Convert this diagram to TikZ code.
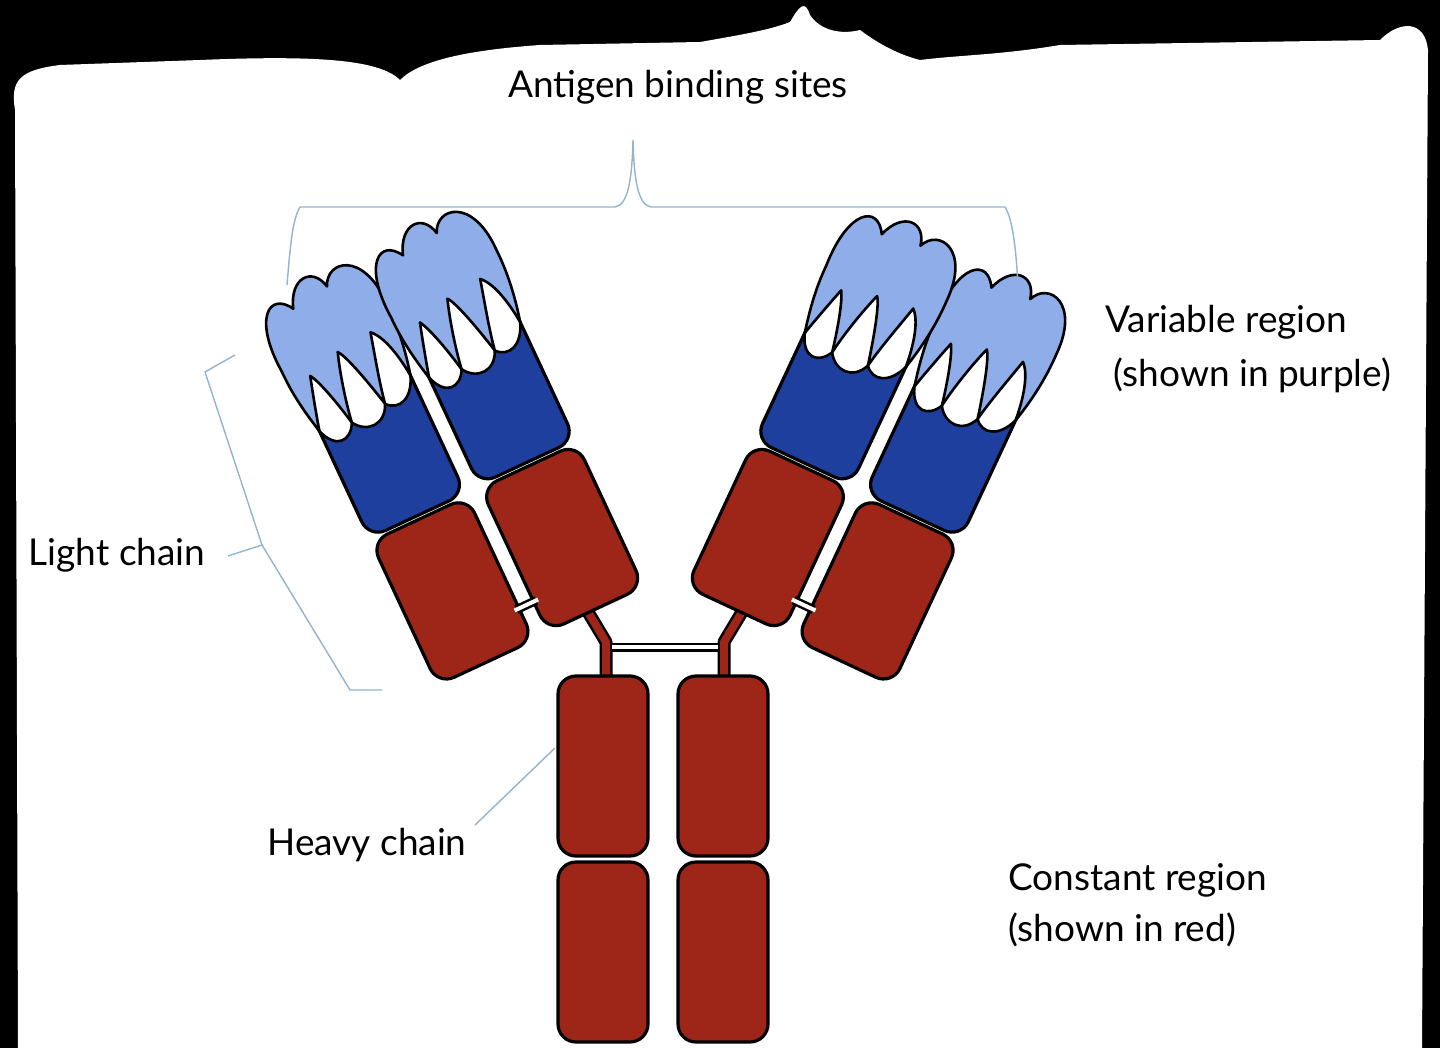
\documentclass[tikz,border=0pt]{standalone}
\usepackage{fontspec}
\setmainfont{Lato}
\definecolor{abred}{HTML}{9E2618}
\definecolor{abblue}{HTML}{1F3F9E}
\definecolor{ablight}{HTML}{8FADE8}
\definecolor{brk}{HTML}{93B4CC}
\begin{document}
\begin{tikzpicture}[x=0.5pt,y=-0.5pt,line join=round,
  box/.style={draw=black,line width=1.6pt,rounded corners=9pt},
  ol/.style={draw=black,line width=1.3pt},
  brace/.style={draw=brk,line width=0.7pt},
  lbl/.style={font=\fontsize{18.5}{22}\selectfont,inner sep=0pt},
  pics/chain/.style={code={
    \path[box,fill=abblue] (-53,-250) rectangle (53,-82);
    \path[ol,fill=white] (-53,-290) -- (-53,-200) .. controls (-45,-176) and (-28,-178) .. (-20,-194)
      .. controls (-10,-178) and (10,-178) .. (18,-197) .. controls (28,-185) and (45,-190) .. (53,-212) -- (53,-290) -- cycle;
    \path[ol,fill=ablight] (-53,-200) .. controls (-60,-230) and (-62,-250) .. (-62,-270)
      .. controls (-66,-330) and (-40,-348) .. (-25,-322)
      .. controls (-15,-352) and (10,-352) .. (15,-328)
      .. controls (25,-352) and (62,-345) .. (62,-290)
      .. controls (63,-260) and (58,-232) .. (53,-212)
      .. controls (50,-245) and (42,-262) .. (35,-268)
      .. controls (30,-248) and (22,-220) .. (18,-197)
      .. controls (10,-232) and (2,-258) .. (-3,-264)
      .. controls (-10,-244) and (-17,-215) .. (-20,-194)
      .. controls (-27,-228) and (-34,-248) .. (-38,-254)
      .. controls (-44,-234) and (-50,-212) .. (-53,-200) -- cycle;
    \path[box,fill=abred] (-53,-78) rectangle (53,80);
  }}]
\fill[black] (0,0) rectangle (1440,1048);
\fill[white] (18,1048) -- (15,110) .. controls (10,80) and (20,70) .. (60,65)
  -- (200,60) .. controls (320,55) and (380,60) .. (400,80) .. controls (420,60) and (470,50) .. (540,45)
  -- (700,42) .. controls (740,35) and (770,30) .. (790,22) .. controls (800,5) and (805,0) .. (810,15)
  .. controls (820,30) and (840,35) .. (860,30) .. controls (880,45) and (900,55) .. (920,60)
  .. controls (960,55) and (1000,55) .. (1060,45) -- (1380,40) .. controls (1400,20) and (1425,20) .. (1428,50)
  -- (1422,1048) -- cycle;
\useasboundingbox (0,0) rectangle (1440,1048);

% hinge
\coordinate (hlA) at (588,612); \coordinate (hlB) at (606,642); \coordinate (hlC) at (606,678);
\coordinate (hrA) at (742,612); \coordinate (hrB) at (724,642); \coordinate (hrC) at (724,678);
\draw[line width=6.5pt,black] (hlA) -- (hlB) -- (hlC);
\draw[line width=4pt,abred] (hlA) -- (hlB) -- (hlC);
\draw[line width=6.5pt,black] (hrA) -- (hrB) -- (hrC);
\draw[line width=4pt,abred] (hrA) -- (hrB) -- (hrC);
\draw[line width=4.5pt,black] (610,647) -- (720,647);
\draw[line width=2pt,white] (612,647) -- (718,647);

% arms
\begin{scope}[shift={(452,590)},rotate=25]
  \pic[transform shape] (ll) {chain};
  \pic[transform shape] (lh) at (122,-2) {chain};
  \draw[line width=4.5pt,black] (50,45) -- (72,45);
  \draw[line width=2pt,white] (48,45) -- (74,45);
\end{scope}
\begin{scope}[shift={(878,590)},rotate=-25]
  \pic[transform shape] (rl) {chain};
  \pic[transform shape] (rh) at (-122,-2) {chain};
  \draw[line width=4.5pt,black] (-50,45) -- (-72,45);
  \draw[line width=2pt,white] (-48,45) -- (-74,45);
\end{scope}

% Fc
\path[box,fill=abred] (558,676) rectangle (648,856);
\path[box,fill=abred] (558,862) rectangle (648,1042);
\path[box,fill=abred] (678,676) rectangle (768,856);
\path[box,fill=abred] (678,862) rectangle (768,1042);

% braces
\draw[brace] (287,285) .. controls (290,250) and (292,220) .. (300,207) -- (615,207) .. controls (628,205) and (632,180) .. (633,140)
  .. controls (634,180) and (638,205) .. (651,207) -- (1005,207) .. controls (1013,220) and (1016,250) .. (1018,285);
\draw[brace] (235,355) -- (205,372) -- (262,545) -- (228,556);
\draw[brace] (262,545) -- (350,690) -- (382,690);
\draw[brace] (475,825) -- (555,748);

% labels
\node[lbl] (t1) at (678,87) {Antigen binding sites};
\node[lbl,anchor=west] (t2) at (1105,322) {Variable region};
\node[lbl,anchor=west] (t3) at (1113,375) {(shown in purple)};
\node[lbl] (t4) at (117,555) {Light chain};
\node[lbl] (t5) at (367,845) {Heavy chain};
\node[lbl,anchor=west] (t6) at (1008,880) {Constant region};
\node[lbl,anchor=west] (t7) at (1008,930) {(shown in red)};
\end{tikzpicture}
\end{document}
